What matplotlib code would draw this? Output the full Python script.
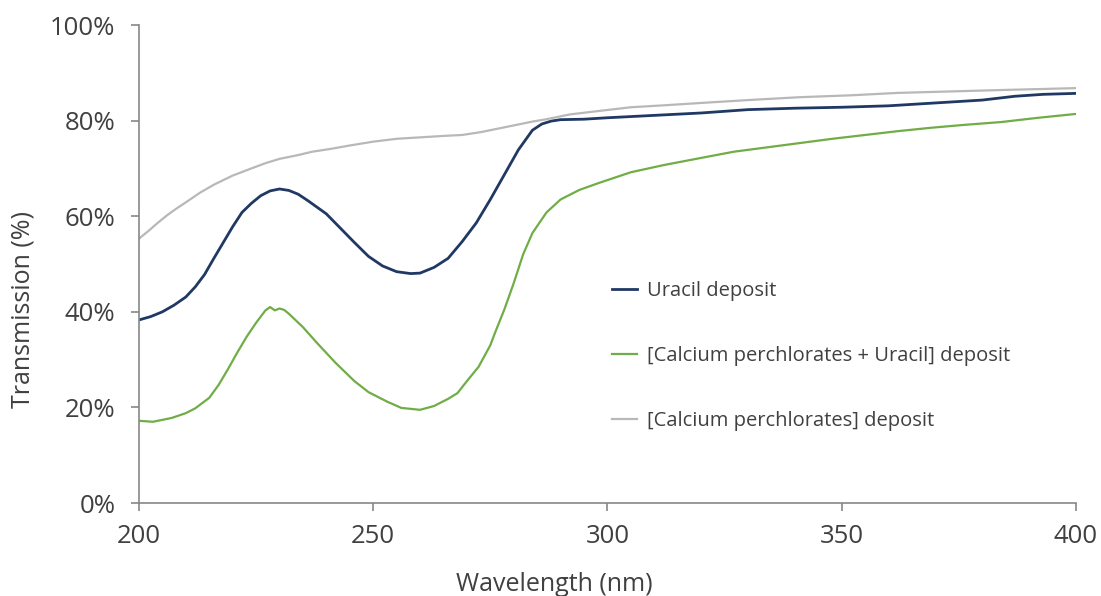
import matplotlib.pyplot as plt
from matplotlib.ticker import PercentFormatter

plt.rcParams['font.family'] = ['Open Sans', 'DejaVu Sans']

# Uracil deposit
wl_uracil = [200, 202.5, 205, 207.5, 210, 212, 214, 216, 218, 220, 222, 224,
             226, 228, 230, 232, 234, 236, 240, 243, 246, 249, 252, 255, 258,
             260, 263, 266, 269, 272, 275, 278, 281, 284, 286, 288, 290, 295,
             300, 310, 320, 330, 340, 350, 360, 370, 380, 387, 393, 400]
tr_uracil = [38.3, 39.0, 40.0, 41.4, 43.1, 45.2, 47.8, 51.2, 54.5, 57.8,
             60.8, 62.7, 64.3, 65.3, 65.7, 65.4, 64.6, 63.3, 60.5, 57.5, 54.5,
             51.6, 49.6, 48.4, 48.0, 48.1, 49.3, 51.2, 54.7, 58.6, 63.5, 68.7,
             73.9, 78.0, 79.3, 79.9, 80.2, 80.3, 80.6, 81.1, 81.6, 82.3, 82.6,
             82.8, 83.1, 83.7, 84.3, 85.1, 85.5, 85.7]

# Calcium perchlorates + uracil deposit
wl_mix = [200, 203, 207, 210, 212, 215, 217, 219, 221, 223, 225, 227, 228,
          229, 230, 231, 232, 235, 238, 242, 246, 249, 253, 256, 260, 263,
          266, 268, 270, 272.5, 275, 276, 278, 280, 282, 284, 287, 290, 294,
          298, 305, 312, 320, 327, 334, 341, 348, 355, 362, 369, 376, 384,
          392, 400]
tr_mix = [17.2, 17.0, 17.8, 18.8, 19.8, 22.0, 24.7, 28.0, 31.5, 34.8, 37.7,
          40.3, 41.0, 40.3, 40.7, 40.4, 39.6, 36.8, 33.5, 29.3, 25.5, 23.2,
          21.2, 19.9, 19.5, 20.3, 21.8, 23.0, 25.5, 28.5, 33.0, 35.6, 40.5,
          46.0, 52.0, 56.5, 60.8, 63.5, 65.5, 66.9, 69.2, 70.7, 72.2, 73.5,
          74.4, 75.3, 76.2, 77.0, 77.8, 78.5, 79.1, 79.7, 80.6, 81.4]

# Calcium perchlorates deposit
wl_salt = [200, 202, 204, 206, 208, 210, 213, 216, 220, 224, 227, 230, 234,
           237, 241, 245, 250, 255, 260, 265, 269, 273, 276, 280, 284, 287,
           292, 298, 305, 312, 320, 330, 341, 352, 362, 373, 384, 392, 400]
tr_salt = [55.3, 56.9, 58.6, 60.2, 61.6, 62.9, 64.9, 66.6, 68.5, 70.0, 71.1,
           72.0, 72.8, 73.5, 74.1, 74.8, 75.6, 76.2, 76.5, 76.8, 77.0, 77.6,
           78.2, 79.0, 79.8, 80.3, 81.3, 82.0, 82.8, 83.2, 83.7, 84.3, 84.9,
           85.3, 85.8, 86.1, 86.4, 86.6, 86.8]

text_col = '#404040'
spine_col = '#878787'

fig = plt.figure(figsize=(11.01, 5.96), dpi=100)
ax = fig.add_axes([0.1262, 0.156, 0.851, 0.802])

ax.plot(wl_uracil, tr_uracil, color='#203864', lw=2.0, label='Uracil deposit')
ax.plot(wl_mix, tr_mix, color='#70ad47', lw=1.6,
        label='[Calcium perchlorates + Uracil] deposit')
ax.plot(wl_salt, tr_salt, color='#b8b8b8', lw=1.6,
        label='[Calcium perchlorates] deposit')

ax.set_xlim(200, 400)
ax.set_ylim(0, 100)
ax.set_xticks([200, 250, 300, 350, 400])
ax.set_yticks([0, 20, 40, 60, 80, 100])
ax.yaxis.set_major_formatter(PercentFormatter(decimals=0))

for side in ['top', 'right']:
    ax.spines[side].set_visible(False)
for side in ['left', 'bottom']:
    ax.spines[side].set_color(spine_col)
    ax.spines[side].set_linewidth(1.2)
ax.tick_params(direction='out', length=6, width=1.2, color=spine_col,
               labelsize=18.5, labelcolor=text_col)
ax.tick_params(axis='y', pad=11)
ax.tick_params(axis='x', pad=9)

ax.set_xlabel('Wavelength (nm)', fontsize=18, color=text_col)
ax.xaxis.set_label_coords(0.443, -0.17)
ax.xaxis.label.set_va('center')
ax.set_ylabel('Transmission (%)', fontsize=18, color=text_col)
ax.yaxis.set_label_coords(-0.124, 0.404)
ax.yaxis.label.set_va('center')

leg = fig.legend(loc='center left', bbox_to_anchor=(0.556, 0.4027),
                 frameon=False, fontsize=14.5, handlelength=1.25,
                 handletextpad=0.5, labelspacing=2.25, borderpad=0,
                 borderaxespad=0)
for t in leg.get_texts():
    t.set_color(text_col)

fig.savefig('out.png', dpi=100)
